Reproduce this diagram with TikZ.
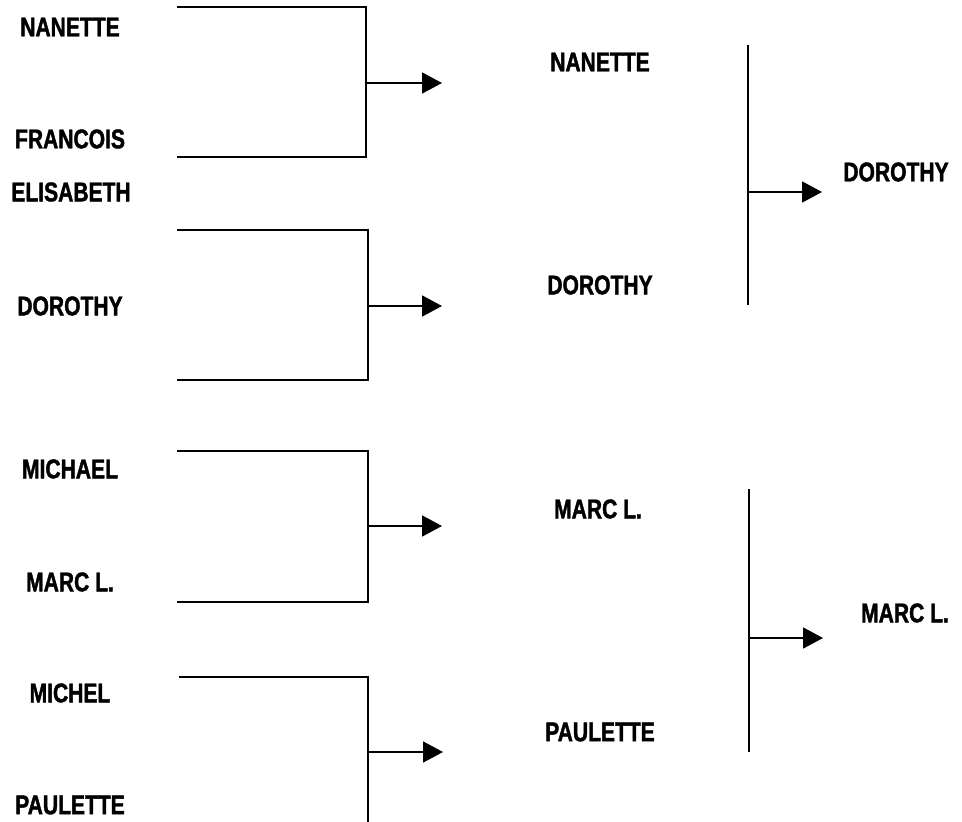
\documentclass[tikz,border=0pt]{standalone}
\usepackage{fontspec}
\usepackage{tikz}
\usetikzlibrary{arrows.meta,positioning}
\newfontfamily\namefont{Liberation Sans}[FakeStretch=0.78,FakeBold=1.5]

\begin{document}
\begin{tikzpicture}[
  x=1pt,y=-1pt,
  player/.style={font=\namefont\bfseries\fontsize{27}{29}\selectfont,inner sep=0pt},
  brk/.style={line width=2.2pt,line join=miter},
  arr/.style={-{Triangle[length=20pt,width=21pt]},line width=1.8pt},
]
\useasboundingbox (0,0) rectangle (962,822);
% round 1
\node[player] (n1) at (70,27) {NANETTE};
\node[player] (f1) at (70,139) {FRANCOIS};
\node[player] (e1) at (71,192) {ELISABETH};
\node[player] (d1) at (70,306) {DOROTHY};
\node[player] (m1) at (70,469) {MICHAEL};
\node[player] (ml1) at (70,582) {MARC L.};
\node[player] (mi1) at (70,693) {MICHEL};
\node[player] (p1) at (70,805) {PAULETTE};
% brackets
\coordinate (b1a) at (177,7);   \coordinate (b1b) at (177,157); \coordinate (b1r) at (366,7);
\coordinate (b2a) at (177,230); \coordinate (b2b) at (177,380); \coordinate (b2r) at (368,230);
\coordinate (b3a) at (177,451); \coordinate (b3b) at (177,602); \coordinate (b3r) at (368,451);
\coordinate (b4a) at (179,677); \coordinate (b4b) at (179,830); \coordinate (b4r) at (368,677);
\draw[brk] (b1a) -- (b1r) |- (b1b);
\draw[brk] (b2a) -- (b2r) |- (b2b);
\draw[brk] (b3a) -- (b3r) |- (b3b);
\draw[brk] (b4a) -- (b4r) |- (b4b);
\coordinate (t1) at (442,83);  \coordinate (t2) at (442,306);
\coordinate (t3) at (442,526); \coordinate (t4) at (443,752);
\draw[arr] (b1r |- t1) -- (t1);
\draw[arr] (b2r |- t2) -- (t2);
\draw[arr] (b3r |- t3) -- (t3);
\draw[arr] (b4r |- t4) -- (t4);
% round 2
\node[player] (n2) at (600,62) {NANETTE};
\node[player] (d2) at (600,285) {DOROTHY};
\node[player] (ml2) at (598,509) {MARC L.};
\node[player] (p2) at (600,732) {PAULETTE};
\coordinate (v1a) at (748,45);  \coordinate (v1b) at (748,305);
\coordinate (v2a) at (749,489); \coordinate (v2b) at (749,752);
\draw[brk] (v1a) -- (v1b);
\draw[brk] (v2a) -- (v2b);
\coordinate (t5) at (822,192); \coordinate (t6) at (823,638);
\draw[arr] (v1a |- t5) -- (t5);
\draw[arr] (v2a |- t6) -- (t6);
% final
\node[player] (d3) at (896,172) {DOROTHY};
\node[player] (ml3) at (905,613) {MARC L.};
\end{tikzpicture}
\end{document}
